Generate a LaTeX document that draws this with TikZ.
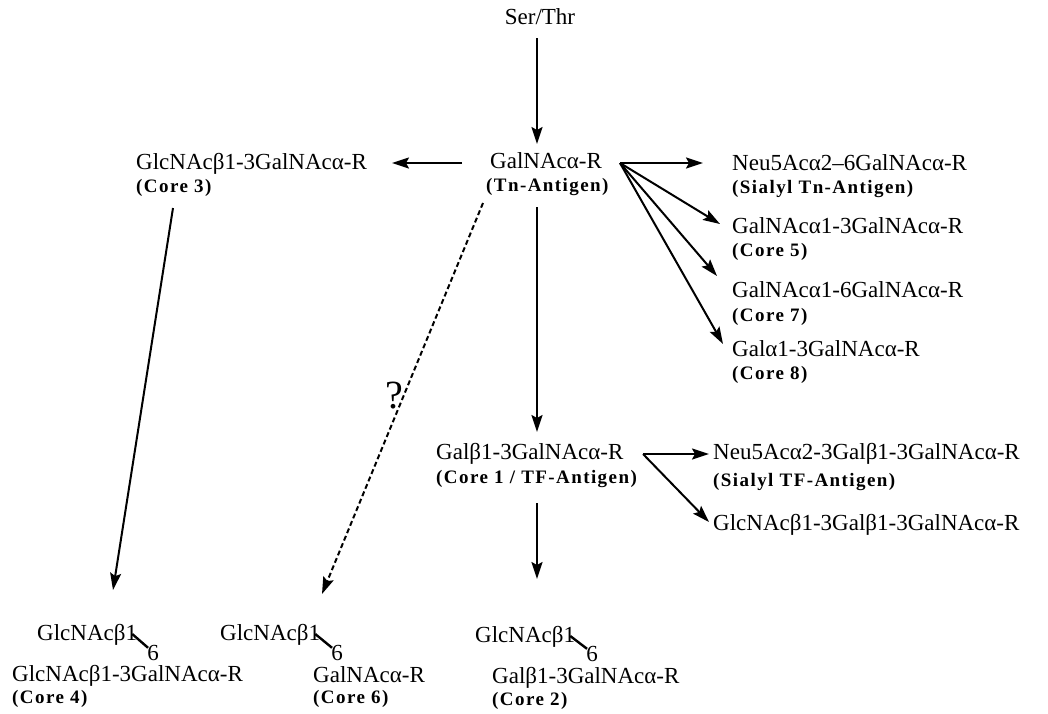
\documentclass[tikz,border=0pt]{standalone}
\usepackage{fontspec}
\setmainfont{Liberation Serif}
\newfontfamily\labfont[LetterSpace=7.5]{Liberation Serif}
\usetikzlibrary{arrows.meta}
\begin{document}
\begin{tikzpicture}[x=1pt,y=-1pt,
  txt/.style={inner sep=0pt, anchor=west, font=\fontsize{23}{26}\selectfont, text height=15pt, text depth=5pt},
  lab/.style={inner sep=0pt, anchor=west, font=\labfont\bfseries\fontsize{19}{22}\selectfont, text height=13pt, text depth=4pt},
  arr/.style={line width=2pt, -{Stealth[length=17pt,width=11pt,inset=3pt]}},
  darr/.style={arr, dash pattern=on 5pt off 3pt},
  bond/.style={line width=2.4pt},
]
\useasboundingbox (0,0) rectangle (1048,713);

% top
\node[txt,anchor=center] (serthr) at (540,19) {Ser/Thr};
\node[txt] (tn) at (490,163) {GalNAcα-R};
\node[lab] (tnl) at (486,187) {(Tn-Antigen)};

% core 3
\node[txt] (c3) at (136,164) {GlcNAcβ1-3GalNAcα-R};
\node[lab] (c3l) at (136,188) {(Core 3)};

% right fan
\node[txt] (stn) at (732,165) {Neu5Acα2–6GalNAcα-R};
\node[lab] (stnl) at (732,189) {(Sialyl Tn-Antigen)};
\node[txt] (c5) at (732,228) {GalNAcα1-3GalNAcα-R};
\node[lab] (c5l) at (732,252) {(Core 5)};
\node[txt] (c7) at (732,292) {GalNAcα1-6GalNAcα-R};
\node[lab] (c7l) at (732,317) {(Core 7)};
\node[txt] (c8) at (732,351) {Galα1-3GalNAcα-R};
\node[lab] (c8l) at (732,375) {(Core 8)};

% core 1
\node[txt] (c1) at (436,454) {Galβ1-3GalNAcα-R};
\node[lab] (c1l) at (436,479) {(Core 1 / TF-Antigen)};
\node[txt] (stf) at (713,454) {Neu5Acα2-3Galβ1-3GalNAcα-R};
\node[lab] (stfl) at (713,482) {(Sialyl TF-Antigen)};
\node[txt] (ext) at (713,525) {GlcNAcβ1-3Galβ1-3GalNAcα-R};

% question mark
\node[inner sep=0pt, font=\fontsize{40}{44}\selectfont] (q) at (394,396) {?};

% bottom: core 4
\node[txt] (c4t) at (37,635) {GlcNAcβ1};
\node[txt,anchor=center] (c4s) at (153,655) {6};
\node[txt] (c4) at (12,676) {GlcNAcβ1-3GalNAcα-R};
\node[lab] (c4l) at (12,699) {(Core 4)};
% core 6
\node[txt] (c6t) at (220,635) {GlcNAcβ1};
\node[txt,anchor=center] (c6s) at (337,655) {6};
\node[txt] (c6) at (313,677) {GalNAcα-R};
\node[lab] (c6l) at (313,699) {(Core 6)};
% core 2
\node[txt] (c2t) at (475,637) {GlcNAcβ1};
\node[txt,anchor=center] (c2s) at (592,656) {6};
\node[txt] (c2) at (492,678) {Galβ1-3GalNAcα-R};
\node[lab] (c2l) at (492,701) {(Core 2)};

% connector end points
\coordinate (p1s) at (537,38);   \coordinate (p1e) at (537,144);
\coordinate (p2s) at (537,207);  \coordinate (p2e) at (537,432);
\coordinate (p3s) at (537,503);  \coordinate (p3e) at (537,579);
\coordinate (p4s) at (462,163);  \coordinate (p4e) at (392,163);
\coordinate (fan) at (620,163);
\coordinate (f1) at (703,163);
\coordinate (f2) at (720,224);
\coordinate (f3) at (717,276);
\coordinate (f4) at (723,344);
\coordinate (fan2) at (643,454);
\coordinate (g1) at (709,454);
\coordinate (g2) at (709,522);
\coordinate (p5s) at (173,208);  \coordinate (p5e) at (113,590);
\coordinate (p6s) at (483,203);  \coordinate (p6e) at (322,594);

\draw[arr] (p1s) -- (p1e);
\draw[arr] (p2s) -- (p2e);
\draw[arr] (p3s) -- (p3e);
\draw[arr] (p4s) -- (p4e);
\draw[arr] (fan) -- (f1);
\draw[arr] (fan) -- (f2);
\draw[arr] (fan) -- (f3);
\draw[arr] (fan) -- (f4);
\draw[arr] (fan2) -- (g1);
\draw[arr] (fan2) -- (g2);
\draw[arr] (p5s) -- (p5e);
\draw[darr] (p6s) -- (p6e);

% linkage bonds
\draw[bond] ([shift={(-5,-1)}]c4t.east) -- ([shift={(1,3)}]c4s.north west);
\draw[bond] ([shift={(-5,-1)}]c6t.east) -- ([shift={(1,3)}]c6s.north west);
\draw[bond] ([shift={(-5,-1)}]c2t.east) -- ([shift={(1,3)}]c2s.north west);
\end{tikzpicture}
\end{document}
